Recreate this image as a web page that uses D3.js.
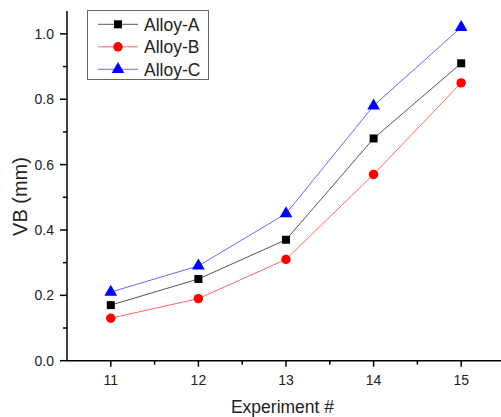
<!DOCTYPE html>
<html>
<head>
<meta charset="utf-8">
<script src="https://cdn.jsdelivr.net/npm/d3@7"></script>
<style>
  body { margin: 0; background: #fff; }
  svg { display: block; font-family: "Liberation Sans", Arial, sans-serif; }
</style>
</head>
<body>
<svg id="chart" width="501" height="417"></svg>
<script>
const experiments = [11, 12, 13, 14, 15];
const alloyA = [0.17, 0.25, 0.37, 0.68, 0.91];
const alloyB = [0.13, 0.19, 0.31, 0.57, 0.85];
const alloyC = [0.21, 0.29, 0.45, 0.78, 1.02];
const yTicks = [0.0, 0.2, 0.4, 0.6, 0.8, 1.0];

const series = [
  { name: "Alloy-A", values: alloyA, line: "#555", fill: "#000", symbol: d3.symbolSquare, size: 64 },
  { name: "Alloy-B", values: alloyB, line: "#f66", fill: "#f00", symbol: d3.symbolCircle, size: 70 },
  { name: "Alloy-C", values: alloyC, line: "#66f", fill: "#00f", symbol: d3.symbolTriangle, size: 70 }
];

const svg = d3.select("#chart");
const mLeft = 67, mBottom = 360.7, mTop = 11;

const x = d3.scaleLinear().domain([10.5, 15.5]).range([mLeft, mLeft + 5 * 87.6]);
const y = d3.scaleLinear().domain([0, 1.07]).range([mBottom, mTop]);

// x axis
const gx = svg.append("g").attr("transform", `translate(0,${mBottom})`);
gx.append("line").attr("x1", mLeft).attr("x2", 505).attr("stroke", "#000").attr("stroke-width", 1.5);
gx.selectAll(".maj").data(experiments).join("line")
  .attr("x1", d => x(d)).attr("x2", d => x(d)).attr("y1", 0).attr("y2", 6)
  .attr("stroke", "#000").attr("stroke-width", 1.5);
gx.selectAll(".min").data(d3.range(11.5, 15.5, 1)).join("line")
  .attr("x1", d => x(d)).attr("x2", d => x(d)).attr("y1", 0).attr("y2", 4)
  .attr("stroke", "#000").attr("stroke-width", 1.5);
gx.selectAll("text").data(experiments).join("text")
  .attr("x", d => x(d)).attr("y", 24.5)
  .attr("text-anchor", "middle").attr("font-size", 14).attr("fill", "#222")
  .text(d => d);

// y axis
const gy = svg.append("g");
gy.append("line").attr("x1", mLeft).attr("x2", mLeft).attr("y1", mTop).attr("y2", mBottom)
  .attr("stroke", "#000").attr("stroke-width", 1.5);
gy.selectAll(".maj").data(yTicks).join("line")
  .attr("x1", mLeft - 7).attr("x2", mLeft).attr("y1", d => y(d)).attr("y2", d => y(d))
  .attr("stroke", "#000").attr("stroke-width", 1.5);
gy.selectAll(".min").data(d3.range(0.1, 1.05, 0.2)).join("line")
  .attr("x1", mLeft - 4).attr("x2", mLeft).attr("y1", d => y(d)).attr("y2", d => y(d))
  .attr("stroke", "#000").attr("stroke-width", 1.5);
gy.selectAll("text").data(yTicks).join("text")
  .attr("x", mLeft - 13).attr("y", d => y(d)).attr("dy", "0.35em")
  .attr("text-anchor", "end").attr("font-size", 14).attr("fill", "#222")
  .text(d => d.toFixed(1));

svg.append("text")
  .attr("transform", `translate(27,196.5) rotate(-90)`)
  .attr("text-anchor", "middle").attr("font-size", 20).attr("fill", "#222")
  .text("VB (mm)");
svg.append("text")
  .attr("x", 282.5).attr("y", 413)
  .attr("text-anchor", "middle").attr("font-size", 17.5).attr("fill", "#222")
  .text("Experiment #");

// series
const line = d3.line().x((d, i) => x(experiments[i])).y(d => y(d));
series.forEach(s => {
  svg.append("path").attr("d", line(s.values))
    .attr("fill", "none").attr("stroke", s.line).attr("stroke-width", 1);
  svg.selectAll(null).data(s.values).join("path")
    .attr("transform", (d, i) => `translate(${x(experiments[i])},${y(d)})`)
    .attr("d", d3.symbol(s.symbol, s.size))
    .attr("fill", s.fill);
});

// legend
const lg = svg.append("g");
lg.append("rect").attr("x", 87.5).attr("y", 10.5).attr("width", 121).attr("height", 69)
  .attr("fill", "#fff").attr("stroke", "#666").attr("stroke-width", 1);
series.forEach((s, i) => {
  const ly = 24.3 + i * 22.5;
  lg.append("line").attr("x1", 98).attr("x2", 138).attr("y1", ly).attr("y2", ly)
    .attr("stroke", s.line).attr("stroke-width", 1);
  lg.append("path").attr("transform", `translate(118,${ly})`)
    .attr("d", d3.symbol(s.symbol, s.size)).attr("fill", s.fill);
  lg.append("text").attr("x", 144).attr("y", ly).attr("dy", "0.36em")
    .attr("font-size", 17.5).attr("fill", "#222").text(s.name);
});
</script>
</body>
</html>
